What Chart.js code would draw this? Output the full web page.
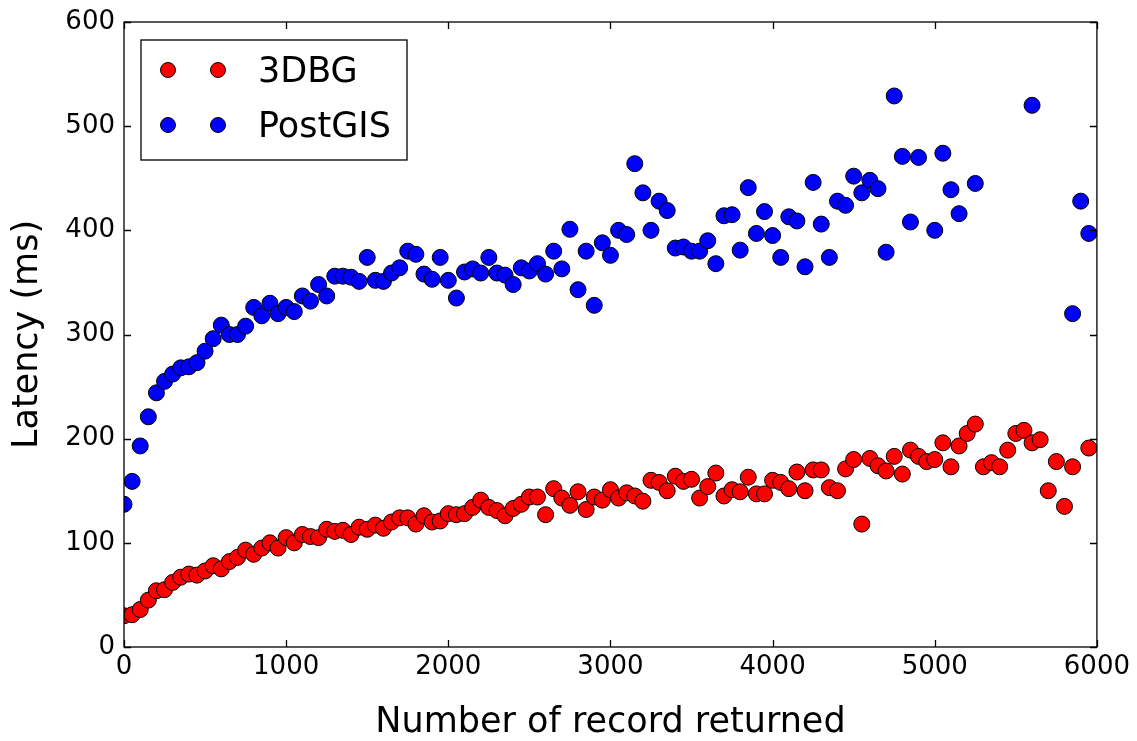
<!DOCTYPE html>
<html>
<head>
<meta charset="utf-8">
<title>Latency vs number of records returned</title>
<script src="https://cdn.jsdelivr.net/npm/chart.js@4.4.1/dist/chart.umd.min.js"></script>
<style>
  html, body { margin: 0; padding: 0; background: #fff; }
  #wrap { width: 1137px; height: 741px; }
</style>
</head>
<body>
<div id="wrap"><canvas id="latencyChart" width="1137" height="741"></canvas></div>
<script>
// number of records returned by each query (x axis)
const recordCounts = [
  0, 50, 100, 150, 200, 250, 300, 350, 400, 450,
  500, 550, 600, 650, 700, 750, 800, 850, 900, 950,
  1000, 1050, 1100, 1150, 1200, 1250, 1300, 1350, 1400, 1450,
  1500, 1550, 1600, 1650, 1700, 1750, 1800, 1850, 1900, 1950,
  2000, 2050, 2100, 2150, 2200, 2250, 2300, 2350, 2400, 2450,
  2500, 2550, 2600, 2650, 2700, 2750, 2800, 2850, 2900, 2950,
  3000, 3050, 3100, 3150, 3200, 3250, 3300, 3350, 3400, 3450,
  3500, 3550, 3600, 3650, 3700, 3750, 3800, 3850, 3900, 3950,
  4000, 4050, 4100, 4150, 4200, 4250, 4300, 4350, 4400, 4450,
  4500, 4550, 4600, 4650, 4700, 4750, 4800, 4850, 4900, 4950,
  5000, 5050, 5100, 5150, 5200, 5250, 5300, 5350, 5400, 5450,
  5500, 5550, 5600, 5650, 5700, 5750, 5800, 5850, 5900, 5950
];

// latency in ms, null where no point is shown
const latency3DBG = [
  30, 31, 36, 45, 54, 55, 62, 67, 70, 69,
  73, 78, 75, 82, 86, 93, 89, 95, 100, 95,
  105, 100, 108, 106, 105, 113, 111, 112, 108, 115,
  113, 117, 114, 120, 124, 124, 118, 126, 120, 121,
  128, 127, 128, 134, 141, 134, 131, 126, 133, 137,
  144, 144, 127, 152, 143, 136, 149, 132, 144, 141,
  151, 143, 148, 145, 140, 160, 158, 150, 164, 159,
  161, 143, 154, 167, 145, 151, 149, 163, 147, 147,
  160, 158, 152, 168, 150, 170, 170, 153, 150, 171,
  180, 118, 181, 174, 169, 183, 166, 189, 183, 178,
  180, 196, 173, 193, 205, 214, 173, 177, 173, 189,
  205, 208, 196, 199, 150, 178, 135, 173, null, 191
];

const latencyPostGIS = [
  137, 159, 193, 221, 244, 255, 262, 268, 269, 273,
  284, 296, 309, 300, 300, 308, 326, 318, 330, 320,
  326, 322, 337, 332, 348, 337, 356, 356, 355, 351,
  374, 352, 351, 359, 364, 380, 377, 358, 353, 374,
  352, 335, 360, 363, 359, 374, 359, 357, 348, 364,
  361, 368, 358, 380, 363, 401, 343, 380, 328, 388,
  376, 400, 396, 464, 436, 400, 428, 419, 383, 384,
  380, 380, 390, 368, 414, 415, 381, 441, 397, 418,
  395, 374, 413, 409, 365, 446, 406, 374, 428, 424,
  452, 436, 448, 440, 379, 529, 471, 408, 470, null,
  400, 474, 439, 416, null, 445, null, null, null, null,
  null, null, 520, null, null, null, null, 320, 428, 397
];

const seriesLabels = ["3DBG", "PostGIS"];
const seriesColors = ["#ff0000", "#0000ff"];

const FONT = '"DejaVu Sans", "Liberation Sans", sans-serif';
const TICK_LEN = 7;

function toPoints(values) {
  const points = [];
  recordCounts.forEach((x, i) => {
    if (values[i] !== null) points.push({ x: x, y: values[i] });
  });
  return points;
}

// matplotlib style frame with inward ticks on all four sides
const frameAndTicks = {
  id: "frameAndTicks",
  afterDatasetsDraw(chart) {
    const { ctx, chartArea: a, scales } = chart;
    ctx.save();
    ctx.strokeStyle = "#000";
    ctx.lineWidth = 1.3;
    ctx.beginPath();
    scales.x.ticks.forEach((t) => {
      const px = Math.round(scales.x.getPixelForValue(t.value)) + 0.5;
      ctx.moveTo(px, a.bottom);
      ctx.lineTo(px, a.bottom - TICK_LEN);
      ctx.moveTo(px, a.top);
      ctx.lineTo(px, a.top + TICK_LEN);
    });
    scales.y.ticks.forEach((t) => {
      const py = Math.round(scales.y.getPixelForValue(t.value)) + 0.5;
      ctx.moveTo(a.left, py);
      ctx.lineTo(a.left + TICK_LEN, py);
      ctx.moveTo(a.right, py);
      ctx.lineTo(a.right - TICK_LEN, py);
    });
    ctx.stroke();
    ctx.strokeRect(a.left, a.top, a.right - a.left, a.bottom - a.top);
    ctx.restore();
  },
};

// legend box with two markers per entry, like matplotlib's numpoints=2
const markerLegend = {
  id: "markerLegend",
  afterDraw(chart) {
    const { ctx, chartArea: a } = chart;
    const boxX = a.left + 17;
    const boxY = a.top + 18;
    const boxW = 266;
    const boxH = 120;
    ctx.save();
    ctx.fillStyle = "#fff";
    ctx.fillRect(boxX, boxY, boxW, boxH);
    ctx.strokeStyle = "#000";
    ctx.lineWidth = 1.3;
    ctx.strokeRect(boxX, boxY, boxW, boxH);

    ctx.font = "35px " + FONT;
    ctx.textBaseline = "alphabetic";
    ctx.textAlign = "left";
    chart.data.datasets.forEach((ds, i) => {
      const cy = boxY + 30 + i * 55;
      [boxX + 27, boxX + 77].forEach((cx) => {
        ctx.beginPath();
        ctx.arc(cx, cy, 7.5, 0, Math.PI * 2);
        ctx.fillStyle = ds.backgroundColor;
        ctx.fill();
        ctx.lineWidth = 1;
        ctx.strokeStyle = "#000";
        ctx.stroke();
      });
      ctx.fillStyle = "#000";
      ctx.fillText(ds.label, boxX + 117, cy + 12);
    });
    ctx.restore();
  },
};

function makeDataset(index, values) {
  return {
    label: seriesLabels[index],
    data: toPoints(values),
    backgroundColor: seriesColors[index],
    borderColor: "#000",
    pointRadius: 8,
    pointHoverRadius: 8,
    pointBorderWidth: 1,
    pointBorderColor: "#000",
    pointBackgroundColor: seriesColors[index],
    showLine: false,
    clip: 0,
    order: 1 - index,
  };
}

function init() {
  Chart.defaults.font.family = FONT;
  Chart.defaults.color = "#000";

  const ctx = document.getElementById("latencyChart").getContext("2d");

  new Chart(ctx, {
    type: "scatter",
    data: {
      datasets: [makeDataset(0, latency3DBG), makeDataset(1, latencyPostGIS)],
    },
    options: {
      responsive: false,
      animation: false,
      events: [],
      devicePixelRatio: 1,
      layout: {
        padding: { left: 0, top: 22, right: 34, bottom: 0 },
      },
      plugins: {
        legend: { display: false },
        tooltip: { enabled: false },
      },
      scales: {
        x: {
          type: "linear",
          min: 0,
          max: 6000,
          grid: { display: false, drawTicks: false },
          border: { display: false },
          ticks: {
            stepSize: 1000,
            padding: 7,
            maxRotation: 0,
            autoSkip: false,
            color: "#000",
            font: { size: 26, lineHeight: 1 },
            callback: (value) => String(value),
          },
          title: {
            display: true,
            text: "Number of record returned",
            color: "#000",
            padding: { top: 0, bottom: 1 },
            font: { size: 35, lineHeight: 1 },
          },
          afterFit(scale) {
            scale.height = 94;
          },
        },
        y: {
          type: "linear",
          min: 0,
          max: 600,
          grid: { display: false, drawTicks: false },
          border: { display: false },
          ticks: {
            stepSize: 100,
            padding: 9,
            color: "#000",
            font: { size: 26, lineHeight: 1 },
            callback: (value) => String(value),
          },
          title: {
            display: true,
            text: "Latency (ms)",
            color: "#000",
            padding: { top: 10, bottom: 0 },
            font: { size: 35, lineHeight: 1 },
          },
          afterFit(scale) {
            scale.width = 124;
          },
        },
      },
    },
    plugins: [frameAndTicks, markerLegend],
  });
}

document.addEventListener("DOMContentLoaded", init);
</script>
</body>
</html>
